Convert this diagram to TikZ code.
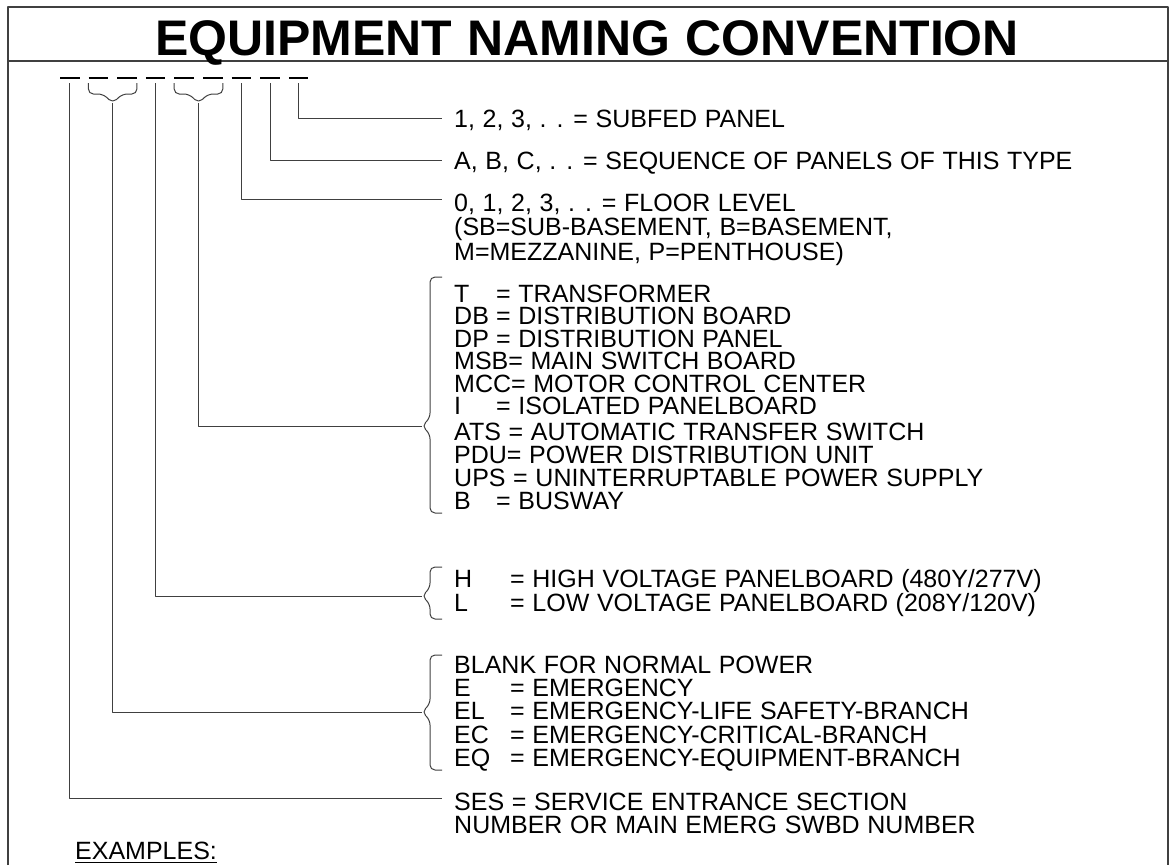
\documentclass[tikz,border=0pt]{standalone}
\usepackage{fontspec}
\setmainfont{Liberation Sans}[WordSpace=1.1]
\begin{document}
\begin{tikzpicture}[
    x=1pt,
    y=-1pt,
    line join=round,
    frame/.style={
        line width=1.6pt,
        draw=black!75
    },
    blank/.style={
        line width=2.2pt
    },
    leader/.style={
        line width=1pt,
        draw=black!75
    },
    brace/.style={
        line width=1pt,
        draw=black!75,
        rounded corners=5pt
    },
    label/.style={
        anchor=base west,
        inner sep=0pt,
        font=\fontsize{25}{25}\selectfont
    }
]

\useasboundingbox (0,0) rectangle (1169,865);

% =================================================
% Рамка и заголовок
% =================================================

\draw[frame] (8,865) -- (8,7) -- (1168,7) -- (1168,865);
\draw[frame] (8,61) -- (1168,61);

\node[anchor=base, inner sep=0pt,
      font=\fontsize{50}{50}\selectfont\bfseries]
    (title) at (587,55) {EQUIPMENT NAMING CONVENTION};

% =================================================
% Позиции символов имени
% =================================================

\foreach \i in {1,...,9} {
    \draw[blank] ({60+28.6*(\i-1)},78) -- ++(19.5,0);
    \coordinate (d\i) at ({69.8+28.6*(\i-1)},83);
}

% Скобки под парами позиций
\coordinate (b23) at (112.7,103);
\coordinate (b56) at (198.5,103);

\draw[brace] (88.4,83) -- (88.4,94) -- (103,94) -- (b23)
    -- (122.4,94) -- (136.9,94) -- (136.9,83);
\draw[brace] (174.2,83) -- (174.2,94) -- (189,94) -- (b56)
    -- (208.2,94) -- (222.8,94) -- (222.8,83);

% =================================================
% Подписи
% =================================================

\node[label] (subfed) at (454,127) {1, 2, 3, . . = SUBFED PANEL};
\node[label] (seq) at (454,169) {A, B, C, . . = SEQUENCE OF PANELS OF THIS TYPE};

\node[label] (floor) at (454,211) {0, 1, 2, 3, . . = FLOOR LEVEL};
\node[label] (floor2) at (454,235.5) {(SB=SUB-BASEMENT, B=BASEMENT,};
\node[label] (floor3) at (454,260) {M=MEZZANINE, P=PENTHOUSE)};

% Типы оборудования
\foreach \y/\w/\ab/\tx [count=\k] in {
    302/42/T/{= TRANSFORMER},
    324.5/42/DB/{= DISTRIBUTION BOARD},
    347/42/DP/{= DISTRIBUTION PANEL},
    369.5/0//{MSB= MAIN SWITCH BOARD},
    392/0//{MCC= MOTOR CONTROL CENTER},
    414.5/42/I/{= ISOLATED PANELBOARD},
    440/0//{ATS = AUTOMATIC TRANSFER SWITCH},
    463/0//{PDU= POWER DISTRIBUTION UNIT},
    486/0//{UPS = UNINTERRUPTABLE POWER SUPPLY},
    509/42/B/{= BUSWAY}} {
    \node[label] (type\k) at (454,\y) {\makebox[\w pt][l]{\ab}\tx};
}

% Напряжение
\node[label] (high) at (454,587) {\makebox[56pt][l]{H}= HIGH VOLTAGE PANELBOARD (480Y/277V)};
\node[label] (low) at (454,611) {\makebox[56pt][l]{L}= LOW VOLTAGE PANELBOARD (208Y/120V)};

% Питание
\node[label] (blank) at (454,673) {BLANK FOR NORMAL POWER};
\foreach \y/\ab/\tx [count=\k] in {
    696.5/E/{= EMERGENCY},
    719.5/EL/{= EMERGENCY-LIFE SAFETY-BRANCH},
    743/EC/{= EMERGENCY-CRITICAL-BRANCH},
    766.5/EQ/{= EMERGENCY-EQUIPMENT-BRANCH}} {
    \node[label] (em\k) at (454,\y) {\makebox[56pt][l]{\ab}\tx};
}

\node[label] (ses) at (454,810) {SES = SERVICE ENTRANCE SECTION};
\node[label] (ses2) at (454,833) {NUMBER OR MAIN EMERG SWBD NUMBER};

\node[label] (examples) at (75,859) {EXAMPLES:};
\draw[line width=1.8pt] ([yshift=-3.5pt]examples.base west)
    -- ([yshift=-3.5pt]examples.base east);

% =================================================
% Фигурные скобки справа
% =================================================

\coordinate (tipBig) at (422,426);
\coordinate (tipHL) at (422,596);
\coordinate (tipEm) at (422,712);

\draw[brace] (442,277) -- (430,277) -- (430,418) -- (tipBig)
    -- (430,434) -- (430,513) -- (442,513);
\draw[brace] (442,567) -- (430,567) -- (430,588) -- (tipHL)
    -- (430,604) -- (430,619) -- (442,619);
\draw[brace] (442,655) -- (430,655) -- (430,704) -- (tipEm)
    -- (430,720) -- (430,770) -- (442,770);

% =================================================
% Выноски
% =================================================

\coordinate (e9) at (442,118);
\coordinate (e8) at (442,160);
\coordinate (e7) at (442,199);
\coordinate (e1) at (442,798);

\draw[leader] (d9) |- (e9);
\draw[leader] (d8) |- (e8);
\draw[leader] (d7) |- (e7);
\draw[leader] (b56) |- (tipBig);
\draw[leader] (d4) |- (tipHL);
\draw[leader] (b23) |- (tipEm);
\draw[leader] (d1) |- (e1);

\end{tikzpicture}
\end{document}
